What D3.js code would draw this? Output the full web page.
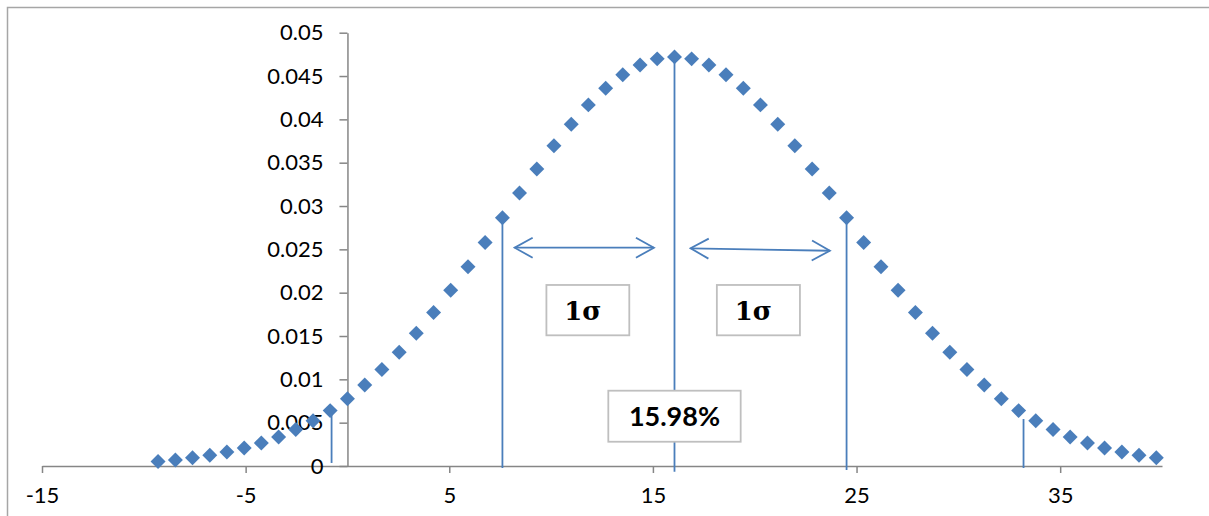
<!DOCTYPE html>
<html><head><meta charset="utf-8">
<script src="https://cdn.jsdelivr.net/npm/d3@7"></script>
<style>body{margin:0;background:#fff}svg{display:block}</style>
</head><body><svg id="c" width="1209" height="516"></svg>
<script>
// x values of the plotted points
const xs = [-9.30,-8.45,-7.61,-6.76,-5.92,-5.07,-4.23,-3.38,-2.54,-1.69,-0.85,0,0.85,1.69,2.54,3.38,4.23,5.07,5.92,6.76,
  7.61,8.45,9.30,10.14,10.99,11.83,12.68,13.52,14.37,15.21,16.06,16.90,17.75,18.59,19.44,20.28,21.13,21.97,22.82,23.66,
  24.51,25.35,26.20,27.04,27.89,28.73,29.58,30.42,31.27,32.11,32.96,33.80,34.65,35.49,36.34,37.18,38.03,38.87,39.72];
// y values (density)
const ys = [0.00052,0.00070,0.00094,0.00123,0.00161,0.00207,0.00265,0.00335,0.00420,0.00521,0.00639,0.00777,0.00934,0.01113,0.01313,0.01533,0.01772,0.02028,0.02298,0.02578,
  0.02864,0.03149,0.03428,0.03695,0.03944,0.04167,0.04358,0.04514,0.04628,0.04698,0.04721,0.04698,0.04628,0.04514,0.04358,0.04167,0.03944,0.03695,0.03428,0.03149,
  0.02864,0.02578,0.02298,0.02028,0.01772,0.01533,0.01313,0.01113,0.00934,0.00777,0.00639,0.00521,0.00420,0.00335,0.00265,0.00207,0.00161,0.00123,0.00094];
const xTicks = [-15,-5,5,15,25,35];
const xTickLabels = ["-15","-5","5","15","25","35"];
const yTicks = [0,0.005,0.01,0.015,0.02,0.025,0.03,0.035,0.04,0.045,0.05];
const yTickLabels = ["0","0.005","0.01","0.015","0.02","0.025","0.03","0.035","0.04","0.045","0.05"];
// annotation drop lines: x, top value, bottom value
const dropX = [-0.78, 7.61, 16.06, 24.51, 33.2];
const dropTop = [0.00589, 0.02864, 0.04721, 0.02864, 0.00542];
const dropBottom = [0.00035, -0.00023, -0.00066, -0.00046, -0.00023];
// arrows: x1,y1,x2,y2
const arrowX1 = [8.21, 16.85], arrowY1 = [0.02519, 0.02512];
const arrowX2 = [15.05, 23.69], arrowY2 = [0.02519, 0.02484];
// label boxes: x0,x1,yTop,yBottom,text
const boxX0 = [9.77, 18.14, 12.81], boxX1 = [13.84, 22.22, 19.31];
const boxYTop = [0.02089, 0.02089, 0.00869], boxYBot = [0.01508, 0.01508, 0.00280];
const boxText = ["1σ", "1σ", "15.98%"];

const svg = d3.select("#c");
const x = d3.scaleLinear().domain([-15, 40]).range([42, 1162]);
const y = d3.scaleLinear().domain([0, 0.05]).range([466, 32.7]);
const blue = "#4A7EBB", gray = "#868686";
const font = "Lato, 'Open Sans', sans-serif";

svg.append("rect").attr("x", 7.5).attr("y", 7.5).attr("width", 1220).attr("height", 530)
  .attr("fill", "none").attr("stroke", "#a6a6a6").attr("stroke-width", 1.5);

// axes
const xAxis = svg.append("g").attr("transform", `translate(0,${y(0)})`)
  .call(d3.axisBottom(x).tickValues(xTicks).tickSize(7).tickSizeOuter(0).tickPadding(14)
    .tickFormat((d, i) => xTickLabels[i]));
const yAxis = svg.append("g").attr("transform", `translate(${x(0)},0)`)
  .call(d3.axisLeft(y).tickValues(yTicks).tickSize(8).tickSizeOuter(0).tickPadding(16)
    .tickFormat((d, i) => yTickLabels[i]));
[xAxis, yAxis].forEach(g => {
  g.selectAll("path,line").attr("stroke", gray).attr("stroke-width", 1.5);
  g.selectAll("text").attr("font-family", font).attr("font-size", 22).attr("fill", "#000");
});
xAxis.selectAll("text").attr("dy", "0.71em");

// drop lines
svg.append("g").selectAll("line").data(dropX).join("line")
  .attr("x1", d => x(d)).attr("x2", d => x(d))
  .attr("y1", (d, i) => y(dropTop[i])).attr("y2", (d, i) => y(dropBottom[i]))
  .attr("stroke", blue).attr("stroke-width", 1.8);

// arrows
const defs = svg.append("defs");
defs.append("marker").attr("id", "ah").attr("viewBox", "-20 -12 22 24")
  .attr("refX", 0).attr("refY", 0).attr("markerWidth", 22).attr("markerHeight", 24)
  .attr("markerUnits", "userSpaceOnUse").attr("orient", "auto-start-reverse")
  .append("path").attr("d", "M-18,-10L0,0L-18,10").attr("fill", "none")
  .attr("stroke", blue).attr("stroke-width", 1.8);
svg.append("g").selectAll("line").data(arrowX1).join("line")
  .attr("x1", d => x(d)).attr("y1", (d, i) => y(arrowY1[i]))
  .attr("x2", (d, i) => x(arrowX2[i])).attr("y2", (d, i) => y(arrowY2[i]))
  .attr("stroke", blue).attr("stroke-width", 1.8)
  .attr("marker-start", "url(#ah)").attr("marker-end", "url(#ah)");

// boxes
const bg = svg.append("g").selectAll("g").data(boxText).join("g");
bg.append("rect").attr("x", (d, i) => x(boxX0[i])).attr("y", (d, i) => y(boxYTop[i]))
  .attr("width", (d, i) => x(boxX1[i]) - x(boxX0[i])).attr("height", (d, i) => y(boxYBot[i]) - y(boxYTop[i]))
  .attr("fill", "#fff").attr("stroke", "#bfbfbf").attr("stroke-width", 1.8);
bg.each(function(d, i) {
  const g = d3.select(this);
  const cx = (x(boxX0[i]) + x(boxX1[i])) / 2, cy = (y(boxYTop[i]) + y(boxYBot[i])) / 2;
  const t = g.append("text").attr("y", cy).attr("dy", "0.36em").attr("fill", "#000").attr("text-anchor", "middle");
  if (d === "1σ") {
    t.attr("x", cx - 5).attr("font-family", "'DejaVu Serif', 'Liberation Serif', serif")
      .attr("font-size", 26).attr("font-weight", "bold").text(d);
  } else {
    t.attr("x", cx).attr("font-family", font).attr("font-size", 27).attr("font-weight", "bold").text(d);
  }
});

// points
svg.append("g").selectAll("path").data(xs).join("path")
  .attr("d", d3.symbol(d3.symbolSquare, 112)())
  .attr("transform", (d, i) => `translate(${x(d)},${y(ys[i])}) rotate(45)`)
  .attr("fill", blue);
</script></body></html>
